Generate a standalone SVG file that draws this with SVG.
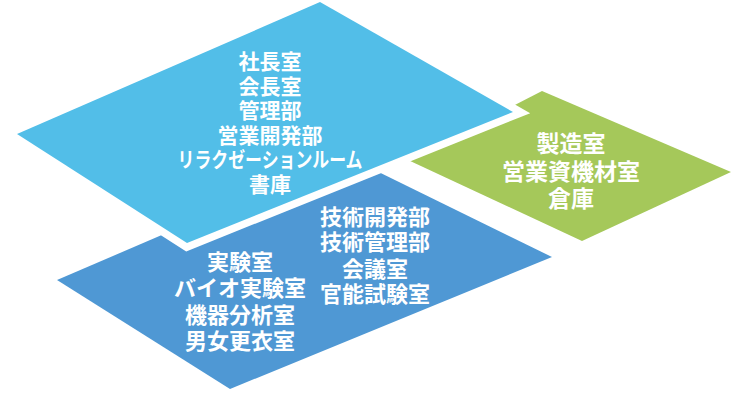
<svg xmlns="http://www.w3.org/2000/svg" width="748" height="400" viewBox="0 0 748 400">
<style>
.t{font-family:"Noto Sans CJK JP","Noto Sans",sans-serif;font-weight:bold;fill:#ffffff;text-anchor:middle}
.a{font-size:21px}
.b{font-size:22px}
.c{font-size:23px}
</style>
<rect width="748" height="400" fill="#ffffff"/>
<g id="node-green">
<polygon points="408,160 542,91 731,172 582,241" fill="#a5c85a"/>
<text class="t c"><tspan x="571" y="152">製造室</tspan><tspan x="571" y="180">営業資機材室</tspan><tspan x="571" y="207">倉庫</tspan></text>
</g>
<g id="node-darkblue">
<polygon points="57,280 346,156 552,257 230,389" fill="#4f98d4"/>
<text class="t b"><tspan x="240" y="270">実験室</tspan><tspan x="240" y="296">バイオ実験室</tspan><tspan x="240" y="323">機器分析室</tspan><tspan x="240" y="349">男女更衣室</tspan></text>
<text class="t b"><tspan x="375" y="225">技術開発部</tspan><tspan x="375" y="250">技術管理部</tspan><tspan x="375" y="277">会議室</tspan><tspan x="375" y="302">官能試験室</tspan></text>
</g>
<g id="node-lightblue">
<polygon points="17,134 320,2 513,112 187,243" fill="#52bee8" stroke="#ffffff" stroke-width="15" stroke-linejoin="miter" paint-order="stroke"/>
<text class="t a"><tspan x="270" y="69">社長室</tspan><tspan x="270" y="93.5">会長室</tspan><tspan x="270" y="118">管理部</tspan><tspan x="270" y="142.5">営業開発部</tspan><tspan x="270" y="167" textLength="185" lengthAdjust="spacingAndGlyphs">リラクゼーションルーム</tspan><tspan x="270" y="191.5">書庫</tspan></text>
</g>
<g id="connectors"></g>
</svg>
